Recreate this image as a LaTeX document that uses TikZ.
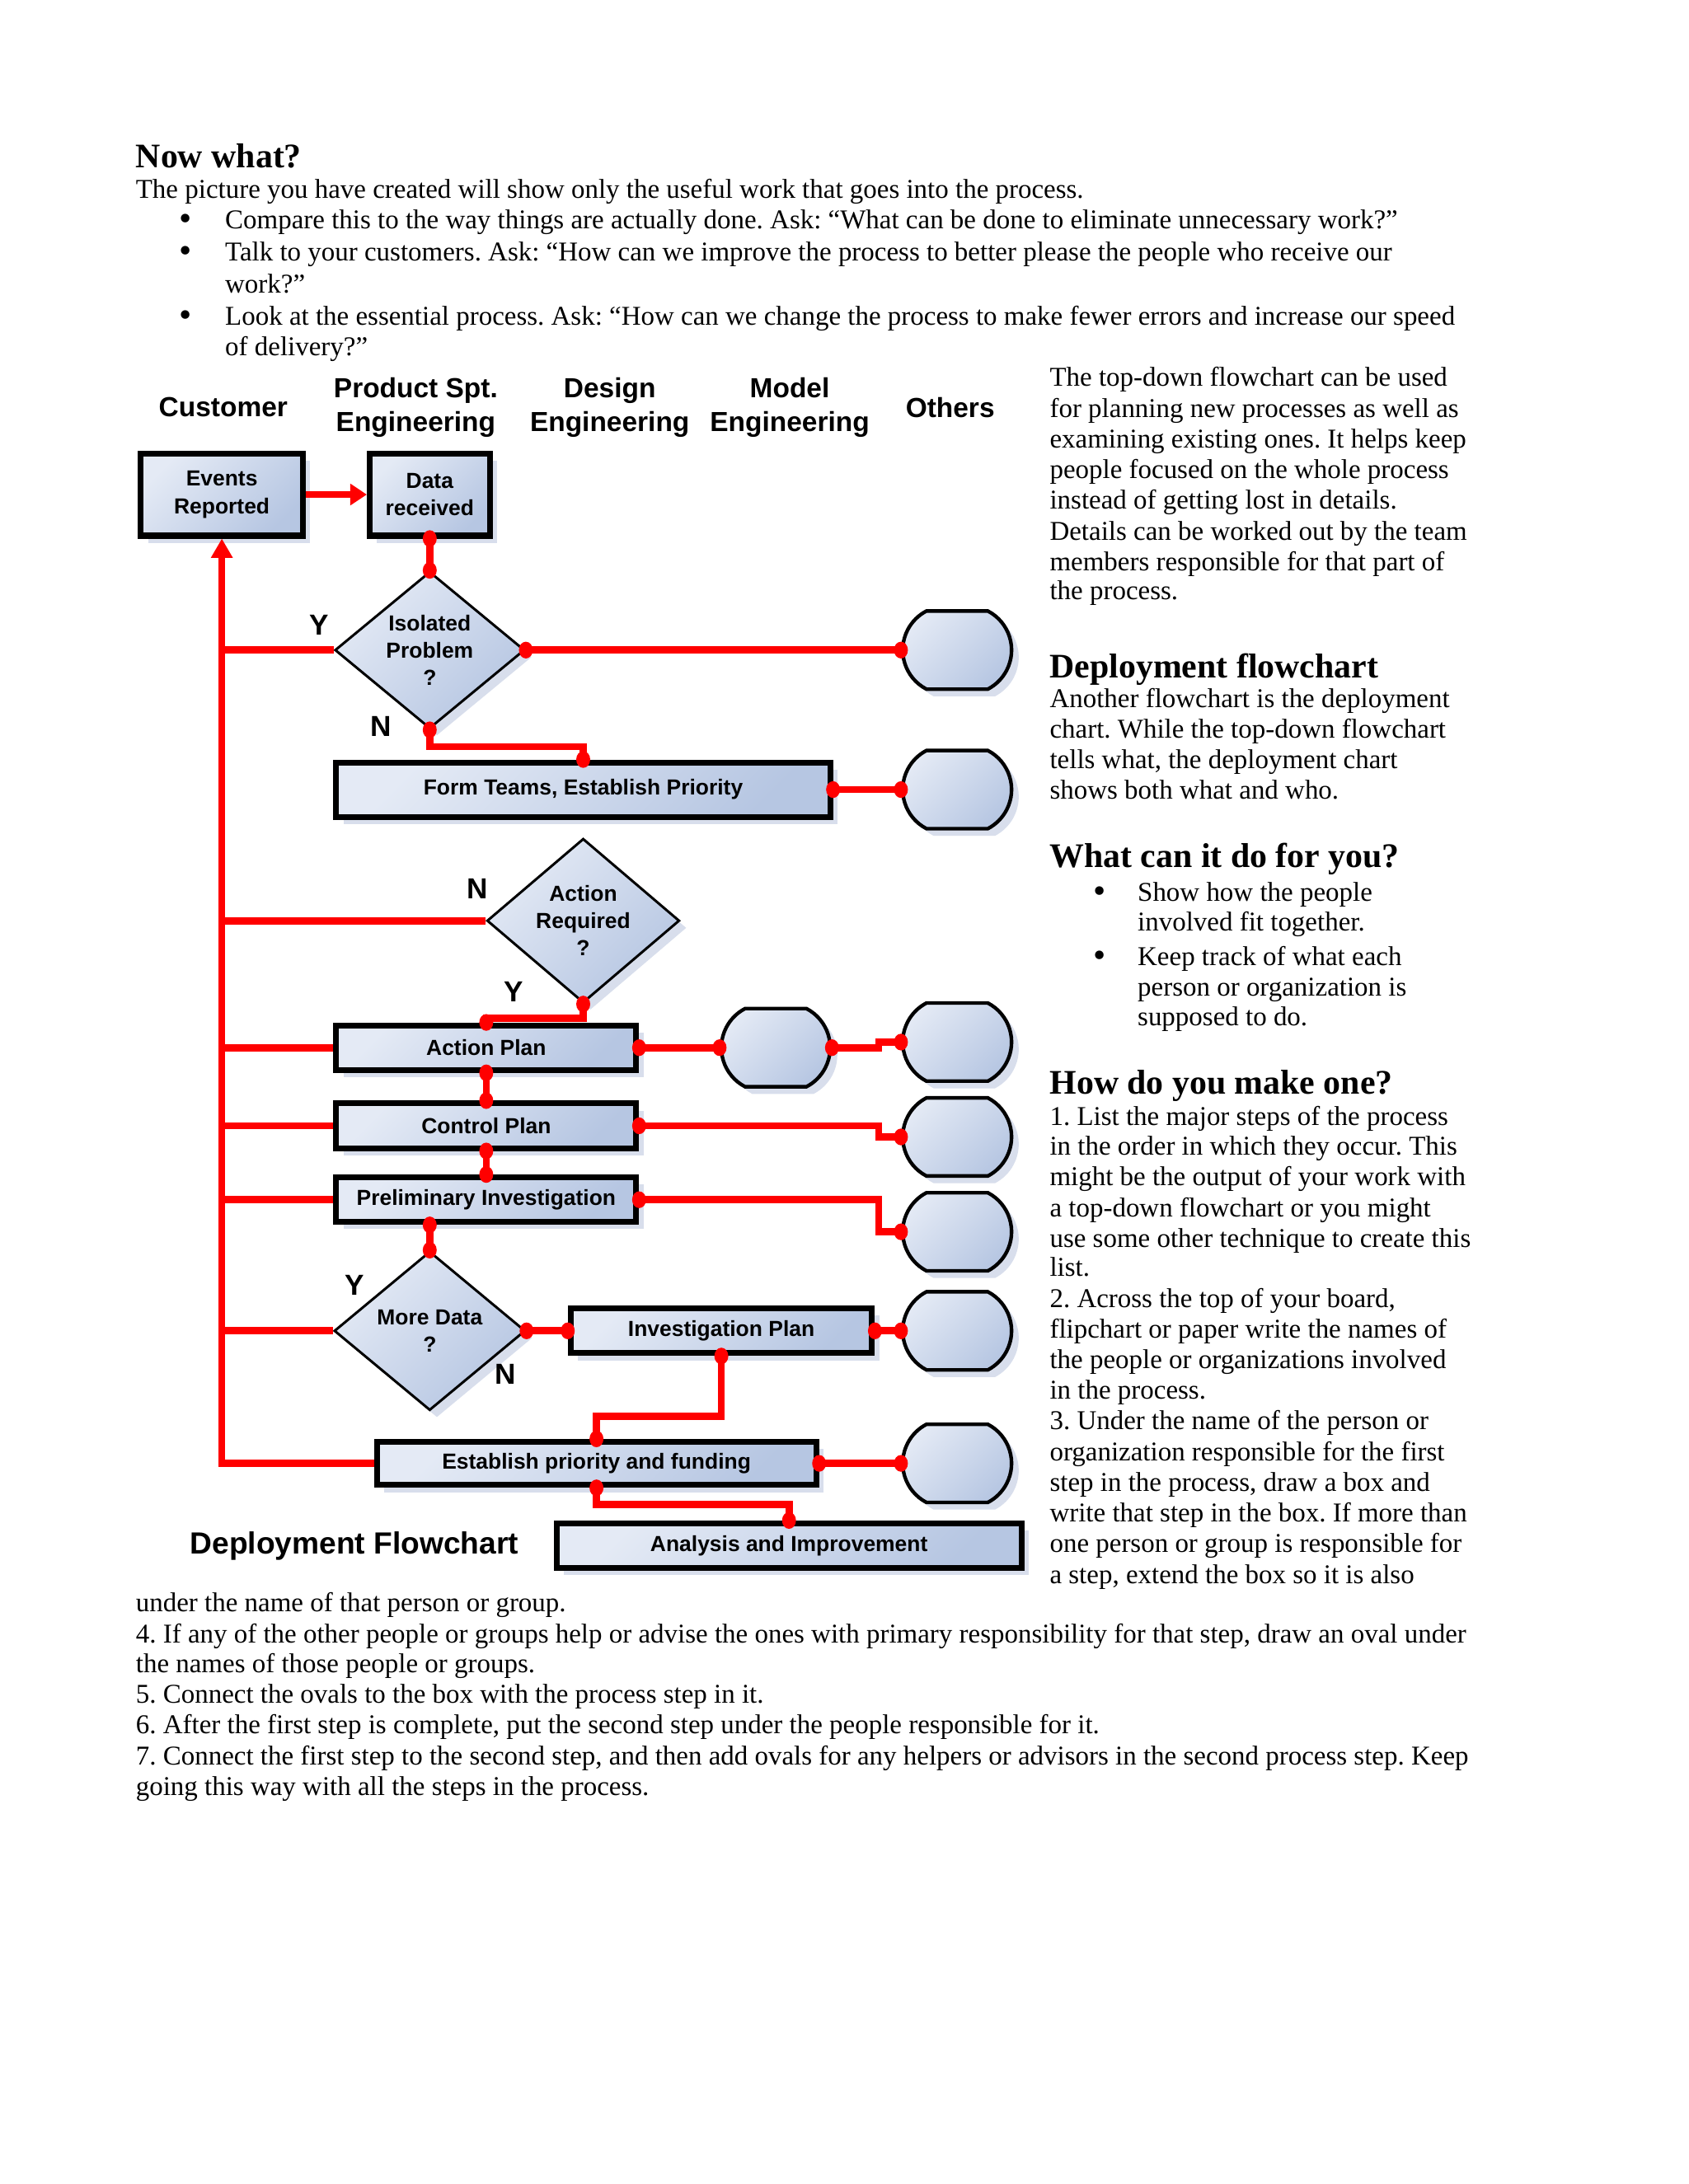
\documentclass[tikz,border=0pt]{standalone}
\usepackage{fontspec}
\setmainfont{Liberation Serif}
\setsansfont{Liberation Sans}
\usetikzlibrary{shapes.geometric,shapes.misc,shadows,arrows.meta,calc}
\definecolor{fillA}{RGB}{228,234,245}
\definecolor{fillB}{RGB}{182,198,226}
\definecolor{shadowc}{RGB}{216,222,236}
\definecolor{lnred}{RGB}{255,0,0}
\newcommand\dpx{0.50579pt}
\frenchspacing
\tikzset{
  body/.style={inner sep=0pt, anchor=base west, font=\fontsize{9.85}{11}\selectfont},
  bul/.style={inner sep=0pt, anchor=center, font=\fontsize{13}{13}\selectfont},
  head/.style={inner sep=0pt, anchor=base west, font=\fontsize{12.5}{14}\selectfont\bfseries},
  colhead/.style={inner sep=0pt, align=center, font=\sffamily\bfseries\fontsize{10}{12.1}\selectfont},
  yn/.style={inner sep=0pt, font=\sffamily\bfseries\fontsize{10.5}{12}\selectfont},
  fancy/.style={top color=fillA, bottom color=fillB, shading angle=45,
    drop shadow={shadow xshift=2.6pt, shadow yshift=-2.6pt, fill=shadowc, opacity=1}},
  stepbox/.style={rectangle, draw=black, line width=2.1pt, fancy, inner sep=0pt, align=center,
    font=\sffamily\bfseries\fontsize{7.9}{10}\selectfont},
  decide/.style={diamond, draw=black, line width=0.9pt, fancy, inner sep=0pt, align=center,
    font=\sffamily\bfseries\fontsize{7.9}{9.8}\selectfont},
  helper/.style={rounded rectangle, rounded rectangle arc length=125, draw=black, line width=1.3pt,
    fancy, inner sep=0pt, minimum width=78*\dpx, minimum height=56*\dpx},
  flow/.style={draw=lnred, line width=2.6pt},
}
\begin{document}
\begin{tikzpicture}[x=\dpx, y=-\dpx]
\fill[white] (0,0) rectangle (1210,1565.6);
\useasboundingbox (0,0) rectangle (1210,1565.6);

% ---------- top text ----------
\node[head] (t0) at (97,120) {Now what?};
\node[body] (t1) at (97,142) {The picture you have created will show only the useful work that goes into the process.};
\node[bul] (b1) at (133,159.5) {•};
\node[body] (t2) at (161,164) {Compare this to the way things are actually done. Ask: “What can be done to eliminate unnecessary work?”};
\node[bul] (b2) at (133,182.5) {•};
\node[body] (t3) at (161,187) {Talk to your customers. Ask: “How can we improve the process to better please the people who receive our};
\node[body] (t4) at (161,210) {work?”};
\node[bul] (b3) at (133,228.5) {•};
\node[body] (t5) at (161,233) {Look at the essential process. Ask: “How can we change the process to make fewer errors and increase our speed};
\node[body] (t6) at (161,255) {of delivery?”};

% ---------- right column ----------
\node[body] (r1) at (752,277) {The top-down flowchart can be used};
\node[body] (r2) at (752,299) {for planning new processes as well as};
\node[body] (r3) at (752,321) {examining existing ones. It helps keep};
\node[body] (r4) at (752,343) {people focused on the whole process};
\node[body] (r5) at (752,365) {instead of getting lost in details.};
\node[body] (r6) at (752,387) {Details can be worked out by the team};
\node[body] (r7) at (752,409) {members responsible for that part of};
\node[body] (r8) at (752,430) {the process.};
\node[head] (h2) at (752,486) {Deployment flowchart};
\node[body] (r9) at (752,507) {Another flowchart is the deployment};
\node[body] (r10) at (752,529) {chart. While the top-down flowchart};
\node[body] (r11) at (752,551) {tells what, the deployment chart};
\node[body] (r12) at (752,573) {shows both what and who.};
\node[head] (h3) at (752,622) {What can it do for you?};
\node[bul] (bb1) at (788,641.5) {•};
\node[body] (r13) at (815,646) {Show how the people};
\node[body] (r14) at (815,667) {involved fit together.};
\node[bul] (bb2) at (788,687.5) {•};
\node[body] (r15) at (815,692) {Keep track of what each};
\node[body] (r16) at (815,714) {person or organization is};
\node[body] (r17) at (815,735) {supposed to do.};
\node[head] (h4) at (752,784) {How do you make one?};
\node[body] (s1) at (752,807) {1. List the major steps of the process};
\node[body] (s2) at (752,828) {in the order in which they occur. This};
\node[body] (s3) at (752,850) {might be the output of your work with};
\node[body] (s4) at (752,872) {a top-down flowchart or you might};
\node[body] (s5) at (752,894) {use some other technique to create this};
\node[body] (s6) at (752,915) {list.};
\node[body] (s7) at (752,937) {2. Across the top of your board,};
\node[body] (s8) at (752,959) {flipchart or paper write the names of};
\node[body] (s9) at (752,981) {the people or organizations involved};
\node[body] (s10) at (752,1003) {in the process.};
\node[body] (s11) at (752,1025) {3. Under the name of the person or};
\node[body] (s12) at (752,1047) {organization responsible for the first};
\node[body] (s13) at (752,1069) {step in the process, draw a box and};
\node[body] (s14) at (752,1091) {write that step in the box. If more than};
\node[body] (s15) at (752,1113) {one person or group is responsible for};
\node[body] (s16) at (752,1135) {a step, extend the box so it is also};

% ---------- bottom text ----------
\node[body] (u1) at (97,1155) {under the name of that person or group.};
\node[body] (u2) at (97,1178) {4. If any of the other people or groups help or advise the ones with primary responsibility for that step, draw an oval under};
\node[body] (u3) at (97,1199) {the names of those people or groups.};
\node[body] (u4) at (97,1221) {5. Connect the ovals to the box with the process step in it.};
\node[body] (u5) at (97,1243) {6. After the first step is complete, put the second step under the people responsible for it.};
\node[body] (u6) at (97,1265) {7. Connect the first step to the second step, and then add ovals for any helpers or advisors in the second process step. Keep};
\node[body] (u7) at (97,1287) {going this way with all the steps in the process.};

% ---------- column headers ----------
\node[colhead] (c1) at (160,292) {Customer};
\node[colhead] (c2) at (298,292) {Product Spt.\\Engineering};
\node[colhead] (c3) at (437,292) {Design\\Engineering};
\node[colhead] (c4) at (566,292) {Model\\Engineering};
\node[colhead] (c5) at (681,292) {Others};
\node[inner sep=0pt, font=\sffamily\bfseries\fontsize{11.1}{13}\selectfont] (dfl) at (254,1108) {Deployment Flowchart};

% ---------- process steps ----------
\node[stepbox, minimum width=116*\dpx, minimum height=59*\dpx] (ev) at (159,354.5) {Events\\Reported};
\node[stepbox, minimum width=86*\dpx, minimum height=59*\dpx] (dr) at (308,354.5) {Data\\received};
\node[decide, minimum width=136*\dpx, minimum height=112*\dpx] (iso) at (308,466) {Isolated\\Problem\\?};
\node[stepbox, minimum width=354*\dpx, minimum height=39*\dpx] (ft) at (418,566) {Form Teams, Establish Priority};
\node[decide, minimum width=138*\dpx, minimum height=114*\dpx] (ar) at (418,660) {Action\\Required\\?};
\node[stepbox, minimum width=215*\dpx, minimum height=32*\dpx] (ap) at (348.5,751) {Action Plan};
\node[stepbox, minimum width=215*\dpx, minimum height=32*\dpx] (cp) at (348.5,807) {Control Plan};
\node[stepbox, minimum width=215*\dpx, minimum height=32*\dpx] (pi) at (348.5,860) {Preliminary Investigation};
\node[decide, minimum width=137*\dpx, minimum height=114*\dpx] (md) at (308,954) {More Data\\?};
\node[stepbox, minimum width=216*\dpx, minimum height=32*\dpx] (ip) at (517,954) {Investigation Plan};
\node[stepbox, minimum width=315*\dpx, minimum height=31*\dpx] (ep) at (427.5,1049) {Establish priority and funding};
\node[stepbox, minimum width=333*\dpx, minimum height=32*\dpx] (ai) at (565.5,1108) {Analysis and Improvement};

% ---------- helper ovals ----------
\node[helper] (o1) at (686,466) {};
\node[helper] (o2) at (686,566) {};
\node[helper] (o3) at (556,751) {};
\node[helper] (o4) at (686,747) {};
\node[helper] (o5) at (686,815) {};
\node[helper] (o6) at (686,883) {};
\node[helper] (o7) at (686,954) {};
\node[helper] (o8) at (686,1049) {};

% ---------- connectors ----------
\draw[flow, -{Triangle[length=6pt,width=7.5pt]}] (ev.east) -- (dr.west);
\draw[flow, -{Triangle[length=7pt,width=7.5pt]}] (ep.west) -| (ev.south);
\draw[flow] (dr.south) -- (iso.north);
\draw[flow] (iso.west) -- (iso.west -| ev.south);
\draw[flow] (iso.east) -- (o1.west);
\draw[flow] (iso.south) -- ++(0,12) -| (ft.north);
\draw[flow] (ft.east) -- (o2.west);
\draw[flow] (ar.west) -- (ar.west -| ev.south);
\draw[flow] (ar.south) -- ++(0,10) -| (ap.north);
\draw[flow] (ap.west) -- (ap.west -| ev.south);
\draw[flow] (ap.east) -- (o3.west);
\draw[flow] (o3.east) -| ($(o4.west)+(-16,0)$) -- (o4.west);
\draw[flow] (ap.south) -- (cp.north);
\draw[flow] (cp.west) -- (cp.west -| ev.south);
\draw[flow] (cp.east) -| ($(o5.west)+(-16,0)$) -- (o5.west);
\draw[flow] (cp.south) -- (pi.north);
\draw[flow] (pi.west) -- (pi.west -| ev.south);
\draw[flow] (pi.east) -| ($(o6.west)+(-16,0)$) -- (o6.west);
\coordinate (pib) at (pi.south -| md.north);
\draw[flow] (pib) -- (md.north);
\draw[flow] (md.west) -- (md.west -| ev.south);
\draw[flow] (md.east) -- (ip.west);
\draw[flow] (ip.east) -- (o7.west);
\draw[flow] (ip.south) -- ++(0,43) -| (ep.north);
\draw[flow] (ep.east) -- (o8.west);
\draw[flow] (ep.south) -- ++(0,12) -| (ai.north);

\foreach \p in {dr.south, iso.north, iso.east, o1.west, iso.south, ft.north, ft.east, o2.west,
  ar.south, ap.north, ap.east, o3.west, o3.east, o4.west, ap.south, cp.north, cp.east, o5.west,
  cp.south, pi.north, pi.east, o6.west, pib, md.north, md.east, ip.west, ip.east, o7.west,
  ip.south, ep.north, ep.east, o8.west, ep.south, ai.north}
  \fill[lnred] (\p) ellipse[x radius=5, y radius=6];

% ---------- Y / N labels ----------
\node[yn] (y1) at (229,448) {Y};
\node[yn] (n1) at (273,521) {N};
\node[yn] (n2) at (342,637) {N};
\node[yn] (y2) at (368,711) {Y};
\node[yn] (y3) at (254,921) {Y};
\node[yn] (n3) at (362,985) {N};
\end{tikzpicture}
\end{document}
